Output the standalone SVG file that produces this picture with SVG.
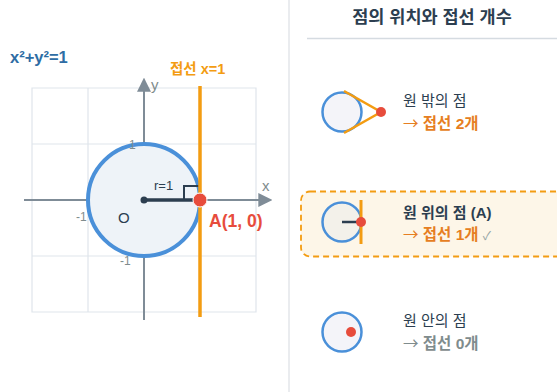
<svg xmlns="http://www.w3.org/2000/svg" width="557" height="392" viewBox="0 0 557 392">
<style>
text{font-family:"Liberation Sans","Noto Sans CJK KR",sans-serif}
.grid{stroke:#dfe5ec;stroke-width:1.2;fill:none}
.axis{stroke:#7f8c97;stroke-width:2}
.tick{font-size:12px;fill:#7f8c8d}
.lbl{font-size:15px;fill:#2c3e50}
.sub{font-size:15.5px;font-weight:bold}
.arr{font-family:"Noto Sans CJK KR",sans-serif;font-weight:normal}
.ring{stroke:#4a90d9;stroke-width:2.5}
</style>
<defs>
<marker id="ah2" viewBox="0 0 12 12" refX="10" refY="6" markerWidth="14" markerHeight="14" markerUnits="userSpaceOnUse" orient="auto"><path d="M0,0L12,6L0,12z" fill="#7f8c97"/></marker>
</defs>
<rect width="557" height="392" fill="#fff"/>
<line x1="289" y1="0" x2="289" y2="392" stroke="#e3e6ea" stroke-width="1.5"/>
<g id="graph">
<path class="grid" d="M32,88H256V312H32Z M88,88V312 M200,88V312 M32,144H256 M32,256H256"/>
<line class="axis" x1="144" y1="320" x2="144" y2="80" marker-end="url(#ah2)"/>
<line class="axis" x1="24" y1="200" x2="270" y2="200" marker-end="url(#ah2)"/>
<text x="151" y="90" font-size="15" fill="#7f8c8d">y</text>
<text x="262" y="191" font-size="15" fill="#7f8c8d">x</text>
<circle cx="144" cy="200" r="56" fill="#eef3f8" stroke="#4a90d9" stroke-width="4"/>
<line x1="144" y1="200" x2="196" y2="200" stroke="#2c3e50" stroke-width="3.5"/>
<circle cx="144" cy="200" r="3.5" fill="#2c3e50"/>
<path d="M184,200V186H200" fill="none" stroke="#2c3e50" stroke-width="2"/>
<line x1="200" y1="86" x2="200" y2="317" stroke="#f39c12" stroke-width="3.5"/>
<circle cx="200" cy="200" r="7" fill="#e74c3c" stroke="#fff" stroke-width="1"/>
<text x="154" y="190" font-size="13" fill="#2c3e50">r=1</text>
<text x="118" y="223" font-size="15" fill="#2c3e50">O</text>
<text x="76" y="221" class="tick">-1</text>
<text x="129" y="149" class="tick">1</text>
<text x="120" y="265" class="tick">-1</text>
<text x="209" y="227" font-size="17.5" font-weight="bold" fill="#e74c3c">A(1, 0)</text>
<text x="10" y="63" font-size="16.5" font-weight="bold" fill="#2e6da4">x²+y²=1</text>
<text x="170" y="74" font-size="14.5" font-weight="bold" fill="#f39c12">접선 x=1</text>
</g>
<g id="title">
<text x="432" y="23" text-anchor="middle" font-size="17.5" font-weight="bold" fill="#2c3e50">점의 위치와 접선 개수</text>
<line x1="307" y1="38.5" x2="557" y2="38.5" stroke="#d5dbe1" stroke-width="1.5"/>
</g>
<g id="outside">
<circle class="ring" cx="342" cy="112" r="19.5" fill="#f4f4f9"/>
<path d="M344,91L381,112L344,133" fill="none" stroke="#f39c12" stroke-width="2.5"/>
<circle cx="381" cy="112" r="5" fill="#e74c3c"/>
<text x="403" y="106" class="lbl">원 밖의 점</text>
<text x="403" y="129" class="sub" fill="#e67e22"><tspan class="arr">→</tspan> 접선 2개</text>
</g>
<g id="on">
<rect x="301" y="191.5" width="270" height="65" rx="9" fill="#fdf6e8" stroke="#f39c12" stroke-width="1.8" stroke-dasharray="6,4"/>
<circle class="ring" cx="342" cy="222" r="19.5" fill="#f3f1ea"/>
<line x1="342" y1="222" x2="357" y2="222" stroke="#2c3e50" stroke-width="2.5"/>
<line x1="361" y1="200" x2="361" y2="244" stroke="#f39c12" stroke-width="3"/>
<circle cx="361" cy="222" r="5" fill="#e74c3c"/>
<text x="403" y="218" class="lbl" font-weight="bold">원 위의 점 (A)</text>
<text x="403" y="240" class="sub" fill="#e67e22"><tspan class="arr">→</tspan> 접선 1개 <tspan font-weight="normal" font-size="12" fill="#95a5a6">✓</tspan></text>
</g>
<g id="inside">
<circle class="ring" cx="342" cy="332" r="19.5" fill="#f4f4f9"/>
<circle cx="351" cy="332" r="5" fill="#e74c3c"/>
<text x="403" y="326" class="lbl">원 안의 점</text>
<text x="403" y="349" class="sub" fill="#7f8c8d"><tspan class="arr">→</tspan> 접선 0개</text>
</g>
</svg>
